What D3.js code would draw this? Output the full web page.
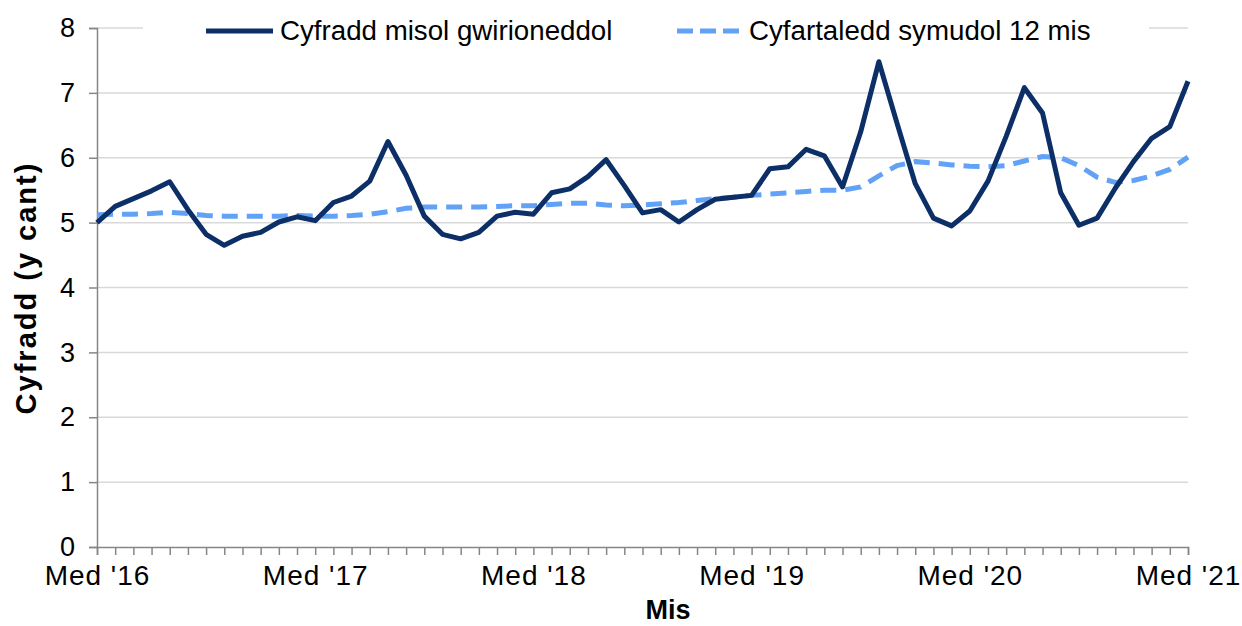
<!DOCTYPE html>
<html>
<head>
<meta charset="utf-8">
<script src="https://cdn.jsdelivr.net/npm/d3@7"></script>
<style>
  body { margin: 0; background: #fff; }
  text { font-family: "Liberation Sans", Arial, sans-serif; fill: #000; }
</style>
</head>
<body>
<svg id="chart" width="1242" height="626"></svg>
<script>
// month names (Welsh) used to build the category labels, Sep 2016 .. Sep 2021
var monthNames = ["Ion", "Chwe", "Maw", "Ebr", "Mai", "Meh", "Gor", "Awst", "Med", "Hyd", "Tach", "Rhag"];
var categories = [];
for (var k = 0; k <= 60; k++) {
  var m = (8 + k) % 12, yr = 16 + Math.floor((8 + k) / 12);
  categories.push(monthNames[m] + " '" + yr);
}
var tickLabels = ["Med '16", "Med '17", "Med '18", "Med '19", "Med '20", "Med '21"];

var monthlyRate = [
  5.00, 5.25, 5.37, 5.49, 5.63, 5.20, 4.82, 4.65, 4.79, 4.85,
  5.01, 5.09, 5.03, 5.31, 5.41, 5.64, 6.25, 5.73, 5.10, 4.82,
  4.75, 4.85, 5.10, 5.16, 5.13, 5.46, 5.52, 5.71, 5.97, 5.57,
  5.15, 5.20, 5.01, 5.20, 5.36, 5.39, 5.42, 5.83, 5.86, 6.13,
  6.03, 5.55, 6.40, 7.48, 6.53, 5.60, 5.07, 4.95, 5.18, 5.64,
  6.33, 7.08, 6.69, 5.46, 4.96, 5.07, 5.53, 5.94, 6.30, 6.48,
  7.18
];
var movingAvg = [
  5.12, 5.13, 5.13, 5.14, 5.16, 5.14, 5.11, 5.10, 5.10, 5.10,
  5.10, 5.11, 5.10, 5.10, 5.11, 5.13, 5.17, 5.22, 5.24, 5.24,
  5.24, 5.24, 5.25, 5.26, 5.26, 5.28, 5.30, 5.30, 5.27, 5.26,
  5.27, 5.29, 5.31, 5.34, 5.37, 5.39, 5.42, 5.44, 5.46, 5.48,
  5.50, 5.50, 5.55, 5.72, 5.88, 5.94, 5.92, 5.89, 5.87, 5.86,
  5.88, 5.95, 6.02, 6.00, 5.88, 5.70, 5.62, 5.65, 5.72, 5.82,
  6.01
];
var yTicks = [0, 1, 2, 3, 4, 5, 6, 7, 8];

var svg = d3.select('#chart');
var plotLeft = 97, plotRight = 1188, plotTop = 28, plotBottom = 547;

var x = d3.scalePoint().domain(categories).range([plotLeft, plotRight]);
var y = d3.scaleLinear().domain([0, 8]).range([plotBottom, plotTop]);

// gridlines
svg.append("g")
  .selectAll("line")
  .data(yTicks.filter(function(d) { return d > 0; }))
  .enter().append("line")
  .attr("x1", plotLeft).attr("x2", plotRight)
  .attr("y1", function(d) { return y(d); })
  .attr("y2", function(d) { return y(d); })
  .attr("stroke", "#d9d9d9")
  .attr("stroke-width", 1.5);

// y axis
var yAxis = svg.append("g")
  .attr("transform", "translate(" + plotLeft + ",0)")
  .call(d3.axisLeft(y).tickValues(yTicks).tickSize(8).tickPadding(14).tickFormat(d3.format("d")));
yAxis.select(".domain").attr("stroke", "#868686").attr("stroke-width", 1.5);
yAxis.selectAll(".tick line").attr("stroke", "#868686").attr("stroke-width", 1.5);
yAxis.selectAll(".tick text")
  .attr("font-size", 27)
  .attr("font-family", "Liberation Sans, Arial, sans-serif")
  .attr("fill", "#000");

// x axis
var xAxis = svg.append("g")
  .attr("transform", "translate(0," + plotBottom + ")")
  .call(d3.axisBottom(x).tickSize(8).tickPadding(10)
    .tickFormat(function(d) { return tickLabels.indexOf(d) >= 0 ? d : ""; }));
xAxis.select(".domain").attr("stroke", "#868686").attr("stroke-width", 1.5);
xAxis.selectAll(".tick line").attr("stroke", "#868686").attr("stroke-width", 1.5);
xAxis.selectAll(".tick text")
  .attr("font-size", 28)
  .attr("letter-spacing", 1)
  .attr("font-family", "Liberation Sans, Arial, sans-serif")
  .attr("fill", "#000");

// lines
var line = d3.line()
  .x(function(d, i) { return x(categories[i]); })
  .y(function(d) { return y(d); });

svg.append("path")
  .datum(movingAvg)
  .attr("d", line)
  .attr("fill", "none")
  .attr("stroke", "#62a2f6")
  .attr("stroke-width", 5)
  .attr("stroke-dasharray", "16,9");

svg.append("path")
  .datum(monthlyRate)
  .attr("d", line)
  .attr("fill", "none")
  .attr("stroke", "#0d2f67")
  .attr("stroke-width", 5)
  .attr("stroke-linejoin", "round");

// legend
var legend = svg.append("g");
legend.append("rect")
  .attr("x", 143).attr("y", 14).attr("width", 1006).attr("height", 34)
  .attr("fill", "#fff");
legend.append("line")
  .attr("x1", 206).attr("x2", 273).attr("y1", 31).attr("y2", 31)
  .attr("stroke", "#0d2f67").attr("stroke-width", 5);
legend.append("text")
  .attr("x", 280).attr("y", 40)
  .attr("font-size", 27.7)
  .text("Cyfradd misol gwirioneddol");
legend.append("line")
  .attr("x1", 677).attr("x2", 740).attr("y1", 31).attr("y2", 31)
  .attr("stroke", "#62a2f6").attr("stroke-width", 5)
  .attr("stroke-dasharray", "16,7");
legend.append("text")
  .attr("x", 749).attr("y", 40)
  .attr("font-size", 27.7)
  .text("Cyfartaledd symudol 12 mis");

// axis titles
svg.append("text")
  .attr("transform", "translate(36,288) rotate(-90)")
  .attr("text-anchor", "middle")
  .attr("font-size", 29)
  .attr("letter-spacing", 2)
  .attr("font-weight", "bold")
  .text("Cyfradd (y cant)");

svg.append("text")
  .attr("x", 668).attr("y", 619)
  .attr("text-anchor", "middle")
  .attr("font-size", 27)
  .attr("font-weight", "bold")
  .text("Mis");
</script>
</body>
</html>
